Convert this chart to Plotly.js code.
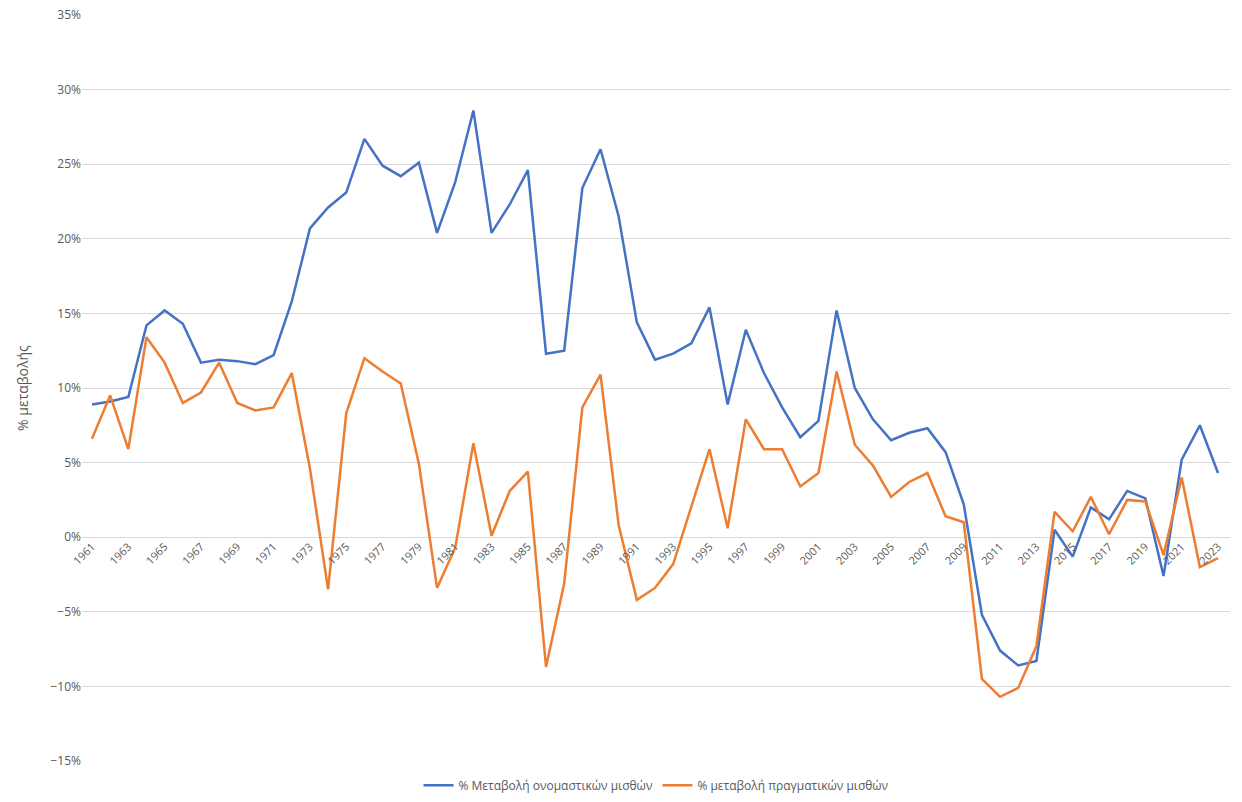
<!DOCTYPE html>
<html>
<head>
<meta charset="utf-8">
<script src="https://cdn.plot.ly/plotly-3.0.1.min.js"></script>
<style>html,body{margin:0;padding:0;background:#fff}#chart{width:1242px;height:802px}</style>
</head>
<body>
<div id="chart"></div>
<script>
const years = [];
for (let y = 1961; y <= 2023; y++) years.push(y);

const nominal = [8.9, 9.1, 9.4, 14.2, 15.2, 14.3, 11.7, 11.9, 11.8, 11.6, 12.2, 15.8, 20.7, 22.1, 23.1, 26.7, 24.9, 24.2, 25.1, 20.4,
  23.8, 28.6, 20.4, 22.3, 24.6, 12.3, 12.5, 23.4, 26.0, 21.5, 14.4, 11.9, 12.3, 13.0, 15.4, 8.9, 13.9, 11.0, 8.7, 6.7,
  7.8, 15.2, 10.0, 7.9, 6.5, 7.0, 7.3, 5.7, 2.2, -5.2, -7.6, -8.6, -8.3, 0.5, -1.3, 2.0, 1.2, 3.1, 2.6, -2.6,
  5.2, 7.5, 4.3];

const real = [6.6, 9.5, 5.9, 13.4, 11.7, 9.0, 9.7, 11.7, 9.0, 8.5, 8.7, 11.0, 4.6, -3.5, 8.3, 12.0, 11.1, 10.3, 4.9, -3.4,
  -0.7, 6.3, 0.1, 3.1, 4.4, -8.7, -3.1, 8.7, 10.9, 0.8, -4.2, -3.4, -1.8, 2.0, 5.9, 0.6, 7.9, 5.9, 5.9, 3.4,
  4.3, 11.1, 6.2, 4.8, 2.7, 3.7, 4.3, 1.4, 1.0, -9.5, -10.7, -10.1, -7.3, 1.7, 0.4, 2.7, 0.2, 2.5, 2.4, -1.2,
  4.0, -2.0, -1.4];

const tickYears = years.filter(y => (y - 1961) % 2 === 0);

const data = [
  { x: years, y: nominal.map(v => v / 100), mode: 'lines', type: 'scatter',
    name: '% Μεταβολή ονομαστικών μισθών', line: { color: '#4472c4', width: 2.5 } },
  { x: years, y: real.map(v => v / 100), mode: 'lines', type: 'scatter',
    name: '% μεταβολή πραγματικών μισθών', line: { color: '#ed7d31', width: 2.5 } },
];

const layout = {
  width: 1242, height: 802,
  margin: { l: 82, r: 12, t: 15, b: 41, autoexpand: false },
  paper_bgcolor: '#fff', plot_bgcolor: '#fff',
  font: { family: 'Open Sans, sans-serif', color: '#595959', size: 12 },
  showlegend: true,
  legend: { orientation: 'h', x: 0.5, xanchor: 'center', y: -0.052, yanchor: 'bottom',
    font: { size: 12, color: '#595959' } },
  xaxis: {
    range: [1960.45, 2023.66], tickvals: tickYears, ticktext: tickYears.map(String),
    tickangle: -45, anchor: 'free', position: 0.3, showgrid: false, zeroline: false,
    showline: false, ticks: '', automargin: false, tickfont: { size: 11, color: '#595959' }
  },
  yaxis: {
    range: [-0.15, 0.35], dtick: 0.05, tickformat: '.0%', gridcolor: '#d9d9d9',
    zeroline: false, showline: false, ticks: '', ticklen: 6, tickcolor: '#fff', automargin: false,
    tickfont: { size: 12, color: '#595959' },
    title: { text: '% μεταβολής', font: { size: 14, color: '#595959' }, standoff: 18 }
  },
};

Plotly.newPlot('chart', data, layout, { displayModeBar: false });
</script>
</body>
</html>
